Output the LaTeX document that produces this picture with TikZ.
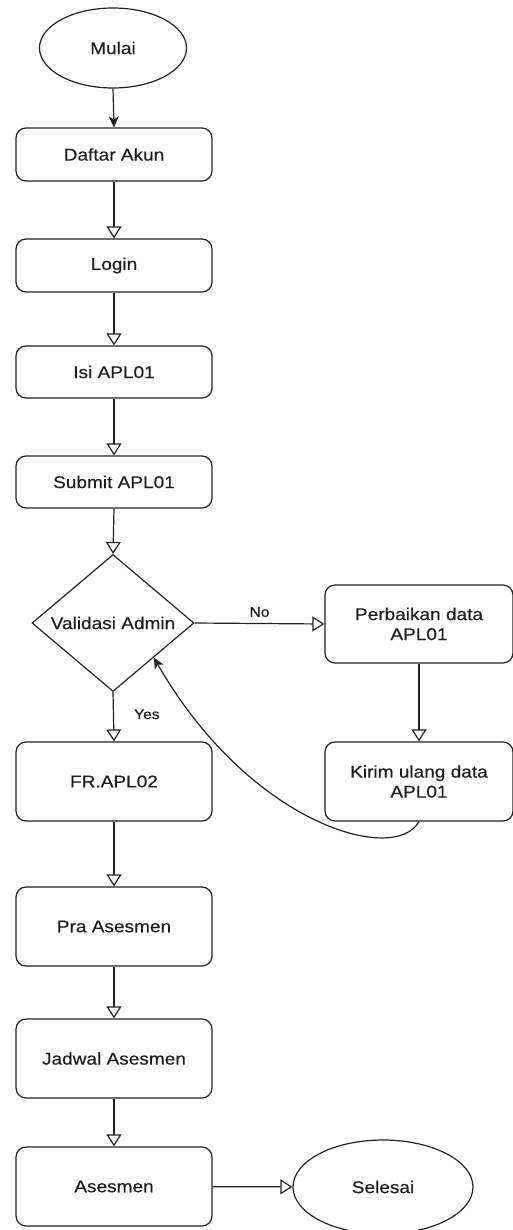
\documentclass[tikz,border=0pt]{standalone}
\usepackage{fontspec}
\setmainfont{Liberation Sans}[FakeStretch=1.12,FakeBold=0.4]
\usetikzlibrary{shapes.geometric,arrows.meta,calc}
\definecolor{ln}{HTML}{222222}
\definecolor{tx}{HTML}{1E1E1E}
\begin{document}
\begin{tikzpicture}[x=1pt,y=-1pt,
  every node/.style={font=\fontsize{17}{20}\selectfont, text=tx},
  stepbox/.style={draw=ln, line width=1.2pt, rounded corners=10pt, minimum width=196pt, inner sep=0pt, align=center},
  termin/.style={draw=ln, line width=1.2pt, ellipse, inner sep=0pt},
  decide/.style={draw=ln, line width=1.2pt, diamond, inner sep=0pt, minimum width=162pt, minimum height=103pt},
  flow/.style={draw=ln, line width=1.2pt, -{Triangle[open, length=12pt, width=15pt]}},
  flowfill/.style={draw=ln, line width=1.2pt, -{Stealth[length=11pt, width=10pt, inset=3pt]}},
  lbl/.style={font=\fontsize{14}{16}\selectfont, inner sep=0pt}
]
\useasboundingbox (0,0) rectangle (513,1230);
\node[termin, minimum width=147pt, minimum height=80pt] (mulai) at (113,48) {Mulai};
\node[stepbox, minimum height=53pt] (daftar) at (114,154.5) {Daftar Akun};
\node[stepbox, minimum height=53pt] (login) at (114,265.5) {Login};
\node[stepbox, minimum height=52pt] (isi) at (114,372) {Isi APL01};
\node[stepbox, minimum height=52pt] (submit) at (114,482) {Submit APL01};
\node[decide] (valid) at (113,623) {Validasi Admin};
\node[stepbox, minimum width=188pt, minimum height=78pt] (perbaikan) at (419,624) {Perbaikan data\\APL01};
\node[stepbox, minimum width=188pt, minimum height=79pt] (kirim) at (419,781.5) {Kirim ulang data\\APL01};
\node[stepbox, minimum height=79pt] (fr) at (114,781.5) {FR.APL02};
\node[stepbox, minimum height=79pt] (pra) at (114,926.5) {Pra Asesmen};
\node[stepbox, minimum height=79pt] (jadwal) at (114,1058.5) {Jadwal Asesmen};
\node[stepbox, minimum height=79pt] (asesmen) at (114,1186.5) {Asesmen};
\node[termin, minimum width=180pt, minimum height=94pt] (selesai) at (383,1187) {Selesai};
\coordinate (back) at ($(valid.east)!0.5!(valid.south)$);

\draw[flowfill] (mulai.south) -- (daftar.north);
\draw[flow] (daftar) -- (login);
\draw[flow] (login) -- (isi);
\draw[flow] (isi) -- (submit);
\draw[flow] (submit.south) -- (valid.north);
\draw[flow] (valid.east) -- node[lbl, above=6pt, pos=0.5] (no) {No} (perbaikan.west);
\draw[flow] (valid.south) -- node[lbl, right=20pt, pos=0.45] (yes) {Yes} (fr.north);
\draw[flow] (perbaikan) -- (kirim);
\draw[flowfill] (kirim.south) .. controls (395,865) and (250,825) .. (back);
\draw[flow] (fr) -- (pra);
\draw[flow] (pra) -- (jadwal);
\draw[flow] (jadwal) -- (asesmen);
\draw[flow] (asesmen) -- (selesai);
\end{tikzpicture}
\end{document}
